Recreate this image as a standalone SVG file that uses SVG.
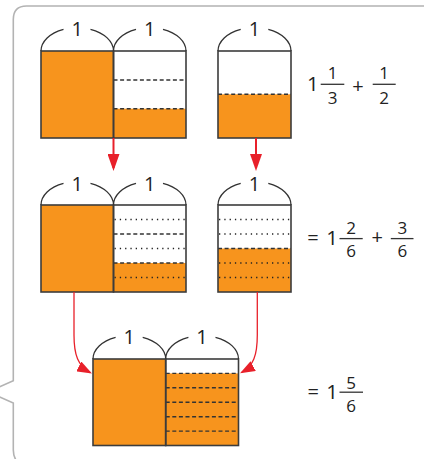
<svg xmlns="http://www.w3.org/2000/svg" width="424" height="459" viewBox="0 0 424 459">
<style>
.frame{fill:none;stroke:#b3b3b3;stroke-width:1.6}
.or{fill:#f7941d}
.wh{fill:#ffffff}
.box{fill:none;stroke:#3c3c3c;stroke-width:1.6}
.dash{stroke:#333;stroke-width:1.4;stroke-dasharray:4 2.6}
.dot{stroke:#222;stroke-width:1.5;stroke-dasharray:1.3 4}
.arc{fill:none;stroke:#333;stroke-width:1.3}
.lbl{font-family:'Open Sans','Noto Sans','DejaVu Sans',sans-serif;font-size:20px;fill:#222;text-anchor:middle}
.fr{font-family:'Open Sans','Noto Sans','DejaVu Sans',sans-serif;font-size:17px;fill:#222;text-anchor:middle}
.bar{stroke:#333;stroke-width:1.3}
.ar{fill:none;stroke:#e8202a}
.ah{fill:#e8202a}
</style>
<defs>
<marker id="hs" markerUnits="userSpaceOnUse" markerWidth="17" markerHeight="12" refX="14" refY="6" orient="auto" viewBox="0 0 17 12"><path class="ah" d="M0,0 L17,6 L0,12 z"/></marker>
<marker id="hc" markerUnits="userSpaceOnUse" markerWidth="15" markerHeight="11" refX="13" refY="5.5" orient="auto" viewBox="0 0 15 11"><path class="ah" d="M0,0 L15,5.5 L0,11 z"/></marker>
</defs>
<path class="frame" d="M425,6 L26.5,6 Q13.3,6 13.3,19.5 L13.3,380.7 L-11.7,392 L13.3,403 L13.3,450 A20,20 0 0 0 33.3,470"/>

<g id="top-two">
<rect class="or" x="41" y="51" width="72.5" height="87"/>
<rect class="wh" x="113.5" y="51" width="72.5" height="87"/>
<rect class="or" x="113.5" y="108.7" width="72.5" height="29.3"/>
<line class="dash" x1="113.5" y1="80" x2="186" y2="80"/>
<line class="dash" x1="113.5" y1="108.7" x2="186" y2="108.7"/>
<rect class="box" x="41" y="51" width="72.5" height="87"/>
<rect class="box" x="113.5" y="51" width="72.5" height="87"/>
<path class="arc" d="M41,51 A36.25,23.4 0 0 1 63.5,29.3 M90.5,29.3 A36.25,23.4 0 0 1 113.5,51 M113.5,51 A36.25,23.4 0 0 1 136,29.3 M163,29.3 A36.25,23.4 0 0 1 186,51"/>
<text class="lbl" x="77.3" y="36">1</text>
<text class="lbl" x="149.8" y="36">1</text>
</g>

<g id="top-half">
<rect class="wh" x="218" y="51" width="73" height="87"/>
<rect class="or" x="218" y="94.3" width="73" height="43.7"/>
<line class="dash" x1="218" y1="94.3" x2="291" y2="94.3"/>
<rect class="box" x="218" y="51" width="73" height="87"/>
<path class="arc" d="M218,51 A36.5,23.4 0 0 1 240.7,29.3 M268.3,29.3 A36.5,23.4 0 0 1 291,51"/>
<text class="lbl" x="254.5" y="36">1</text>
</g>

<g id="expr-top">
<text class="lbl" x="312.8" y="90.5" style="font-size:20.5px">1</text>
<text class="fr" x="332.5" y="79.3">1</text>
<line class="bar" x1="320.7" y1="84.3" x2="344.3" y2="84.3"/>
<text class="fr" x="332.5" y="104.3">3</text>
<text class="lbl" x="358" y="92.8">+</text>
<text class="fr" x="384.2" y="79.3">1</text>
<line class="bar" x1="372.7" y1="84.3" x2="395.7" y2="84.3"/>
<text class="fr" x="384.2" y="104.3">2</text>
</g>

<g id="mid-two">
<rect class="or" x="41" y="205" width="72.5" height="87"/>
<rect class="wh" x="113.5" y="205" width="72.5" height="87"/>
<rect class="or" x="113.5" y="263" width="72.5" height="29"/>
<line class="dot" x1="114.5" y1="219.5" x2="186" y2="219.5"/>
<line class="dash" x1="113.5" y1="234" x2="186" y2="234"/>
<line class="dot" x1="114.5" y1="248.5" x2="186" y2="248.5"/>
<line class="dash" x1="113.5" y1="263" x2="186" y2="263"/>
<line class="dot" x1="114.5" y1="277.5" x2="186" y2="277.5"/>
<rect class="box" x="41" y="205" width="72.5" height="87"/>
<rect class="box" x="113.5" y="205" width="72.5" height="87"/>
<path class="arc" d="M41,205 A36.25,23.4 0 0 1 63.5,183.3 M90.5,183.3 A36.25,23.4 0 0 1 113.5,205 M113.5,205 A36.25,23.4 0 0 1 136,183.3 M163,183.3 A36.25,23.4 0 0 1 186,205"/>
<text class="lbl" x="77.3" y="190.7">1</text>
<text class="lbl" x="149.8" y="190.7">1</text>
</g>

<g id="mid-half">
<rect class="wh" x="218" y="205" width="73" height="87"/>
<rect class="or" x="218" y="248.5" width="73" height="43.5"/>
<line class="dot" x1="219" y1="219.5" x2="291" y2="219.5"/>
<line class="dot" x1="219" y1="234" x2="291" y2="234"/>
<line class="dash" x1="218" y1="248.5" x2="291" y2="248.5"/>
<line class="dot" x1="219" y1="263" x2="291" y2="263"/>
<line class="dot" x1="219" y1="277.5" x2="291" y2="277.5"/>
<rect class="box" x="218" y="205" width="73" height="87"/>
<path class="arc" d="M218,205 A36.5,23.4 0 0 1 240.7,183.3 M268.3,183.3 A36.5,23.4 0 0 1 291,205"/>
<text class="lbl" x="254.5" y="190.7">1</text>
</g>

<g id="expr-mid">
<text class="lbl" x="313" y="244.5">=</text>
<text class="lbl" x="332" y="245" style="font-size:20.5px">1</text>
<text class="fr" x="351" y="234">2</text>
<line class="bar" x1="339.5" y1="238.6" x2="362.7" y2="238.6"/>
<text class="fr" x="351" y="257.3">6</text>
<text class="lbl" x="377.2" y="244.3">+</text>
<text class="fr" x="402.3" y="234">3</text>
<line class="bar" x1="390.8" y1="238.6" x2="413.5" y2="238.6"/>
<text class="fr" x="402.3" y="257.3">6</text>
</g>

<g id="bottom-two">
<rect class="or" x="93" y="359" width="72.7" height="86.5"/>
<rect class="wh" x="165.7" y="359" width="72.8" height="86.5"/>
<rect class="or" x="165.7" y="373.4" width="72.8" height="72.1"/>
<line class="dash" x1="165.7" y1="373.4" x2="238.5" y2="373.4"/>
<line class="dash" x1="165.7" y1="387.8" x2="238.5" y2="387.8"/>
<line class="dash" x1="165.7" y1="402.3" x2="238.5" y2="402.3"/>
<line class="dash" x1="165.7" y1="416.7" x2="238.5" y2="416.7"/>
<line class="dash" x1="165.7" y1="431.1" x2="238.5" y2="431.1"/>
<rect class="box" x="93" y="359" width="72.7" height="86.5"/>
<rect class="box" x="165.7" y="359" width="72.8" height="86.5"/>
<path class="arc" d="M93,359 A36.35,23.4 0 0 1 115.6,337.3 M142.7,337.3 A36.35,23.4 0 0 1 165.7,359 M165.7,359 A36.4,23.4 0 0 1 188.4,337.3 M215.5,337.3 A36.4,23.4 0 0 1 238.5,359"/>
<text class="lbl" x="129.3" y="344">1</text>
<text class="lbl" x="202" y="344">1</text>
</g>

<g id="expr-bottom">
<text class="lbl" x="313.2" y="398.8">=</text>
<text class="lbl" x="332" y="398.5" style="font-size:20.5px">1</text>
<text class="fr" x="351" y="389">5</text>
<line class="bar" x1="339.5" y1="392.2" x2="363" y2="392.2"/>
<text class="fr" x="351" y="412">6</text>
</g>

<g id="connectors">
<path class="ar" style="stroke-width:2" d="M113.5,138 L113.5,168" marker-end="url(#hs)"/>
<path class="ar" style="stroke-width:2" d="M256,138 L256,168" marker-end="url(#hs)"/>
<path class="ar" style="stroke-width:1.3" d="M74,292 L74,335 C74,355 78,366 90.2,372.6" marker-end="url(#hc)"/>
<path class="ar" style="stroke-width:1.3" d="M257.3,292 L257.3,335 C257.3,355 253.5,366 241.8,372.4" marker-end="url(#hc)"/>
</g>
</svg>
